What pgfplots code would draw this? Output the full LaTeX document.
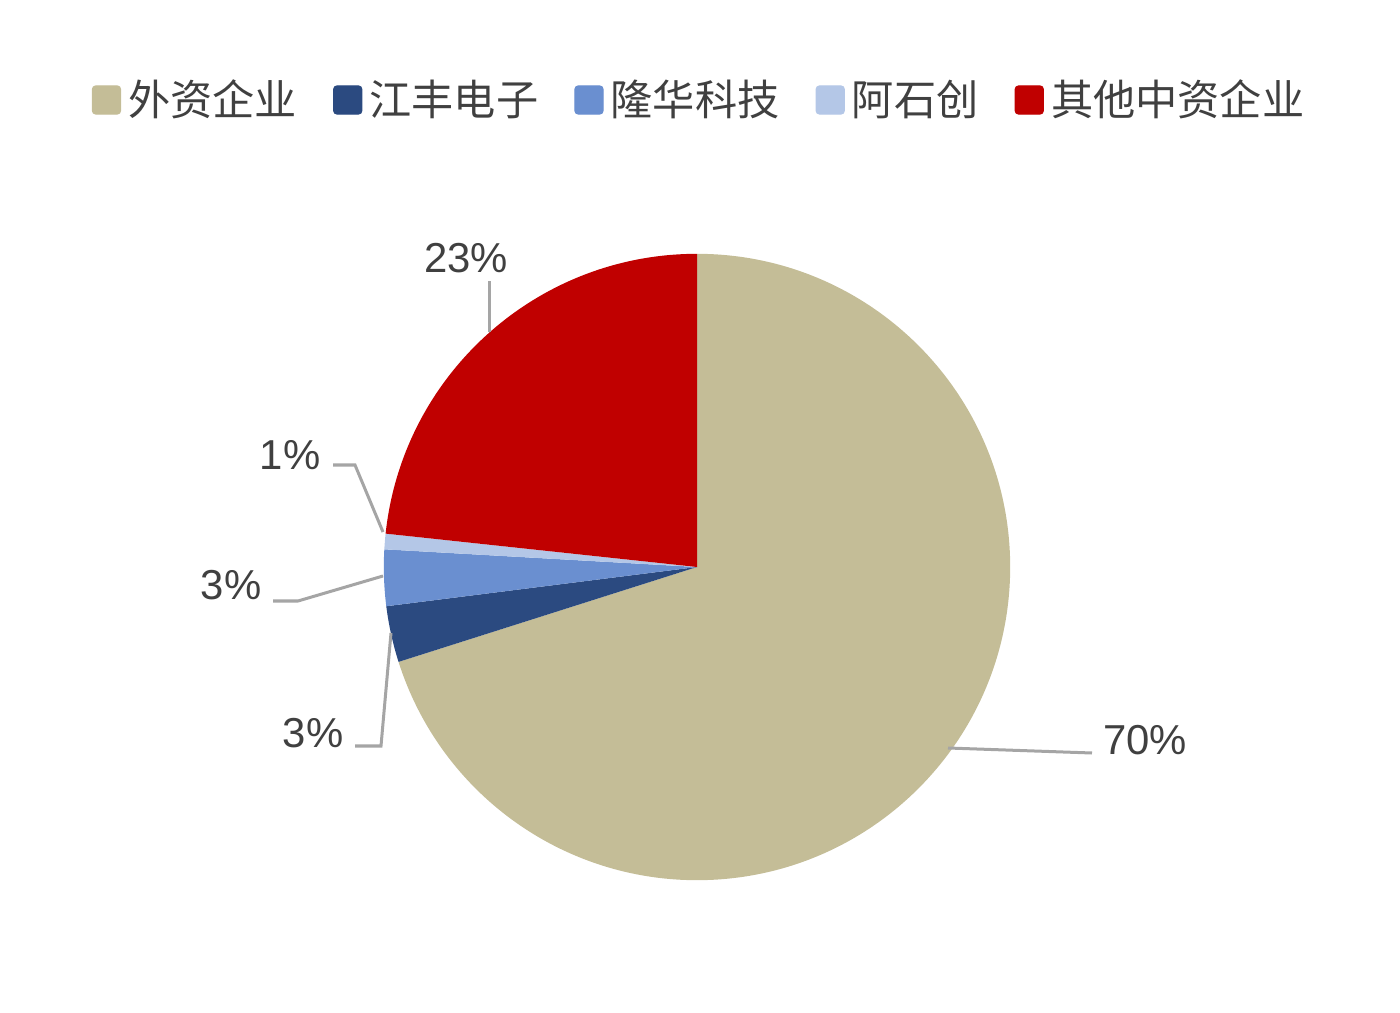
\documentclass[border=0pt]{standalone}
\usepackage{pgfplots}
\pgfplotsset{compat=1.18}
\usepackage{fontspec}
\setmainfont{Liberation Sans}
\newfontfamily\cjk{Noto Sans CJK SC}
\definecolor{tanc}{RGB}{196,189,151}
\definecolor{dblue}{RGB}{43,74,128}
\definecolor{mblue}{RGB}{106,143,208}
\definecolor{lblue}{RGB}{180,199,231}
\definecolor{redc}{RGB}{192,0,0}
\definecolor{txt}{RGB}{64,64,64}
\definecolor{lead}{RGB}{165,165,165}
% shares in percent: 外资企业, 江丰电子, 隆华科技, 阿石创, 其他中资企业
\def\vA{70.1}
\def\vB{2.9}
\def\vC{2.9}
\def\vD{0.8}
\def\vE{23.3}
\begin{document}
\begin{tikzpicture}
\pgfmathsetmacro\sA{90}
\pgfmathsetmacro\sB{\sA-3.6*\vA}
\pgfmathsetmacro\sC{\sB-3.6*\vB}
\pgfmathsetmacro\sD{\sC-3.6*\vC}
\pgfmathsetmacro\sE{\sD-3.6*\vD}
\pgfmathsetmacro\sF{\sE-3.6*\vE}
\def\R{3.13cm}
\begin{axis}[
  x=0.01cm, y=0.01cm,
  xmin=0, xmax=1400, ymin=0, ymax=1012,
  hide axis, clip=false,
  legend columns=5,
  legend style={draw=none, fill=none, at={(axis cs:698,912)}, anchor=center,
    font=\cjk\fontsize{12pt}{14pt}\selectfont, text=txt,
    nodes={inner sep=0pt},
    /tikz/every odd column/.append style={column sep=0.07cm},
    /tikz/every even column/.append style={column sep=0.36cm}},
  legend image code/.code={\fill[#1, rounded corners=1pt] (0cm,-0.14cm) rectangle (0.28cm,0.14cm);},
]
\path (axis cs:0,0) rectangle (axis cs:1400,1012);
\addlegendimage{tanc}\addlegendentry{外资企业}
\addlegendimage{dblue}\addlegendentry{江丰电子}
\addlegendimage{mblue}\addlegendentry{隆华科技}
\addlegendimage{lblue}\addlegendentry{阿石创}
\addlegendimage{redc}\addlegendentry{其他中资企业}
\fill[tanc] (axis cs:697,445) -- ++(\sA:\R) arc[start angle=\sA, end angle=\sB, radius=\R] -- cycle;
\fill[dblue] (axis cs:697,445) -- ++(\sB:\R) arc[start angle=\sB, end angle=\sC, radius=\R] -- cycle;
\fill[mblue] (axis cs:697,445) -- ++(\sC:\R) arc[start angle=\sC, end angle=\sD, radius=\R] -- cycle;
\fill[lblue] (axis cs:697,445) -- ++(\sD:\R) arc[start angle=\sD, end angle=\sE, radius=\R] -- cycle;
\fill[redc] (axis cs:697,445) -- ++(\sE:\R) arc[start angle=\sE, end angle=\sF, radius=\R] -- cycle;
% leader lines
\draw[lead, line width=0.03cm] (axis cs:489,680) -- (axis cs:489,731);
\draw[lead, line width=0.03cm] (axis cs:333,547) -- (axis cs:355,547) -- (axis cs:383,480);
\draw[lead, line width=0.03cm] (axis cs:273,411) -- (axis cs:298,411) -- (axis cs:383,436);
\draw[lead, line width=0.03cm] (axis cs:355,266) -- (axis cs:381,266) -- (axis cs:391,379);
\draw[lead, line width=0.03cm] (axis cs:948,264) -- (axis cs:1092,259);
% data labels
\begin{scope}[every node/.style={text=txt, font=\fontsize{11.9pt}{14pt}\selectfont, inner sep=0pt}]
\node at (axis cs:466,754) {\vphantom{0}23\%};
\node at (axis cs:290,557) {1\%};
\node at (axis cs:231,427) {3\%};
\node at (axis cs:313,279) {3\%};
\node at (axis cs:1145,272) {70\%};
\end{scope}
\end{axis}
\end{tikzpicture}
\end{document}
